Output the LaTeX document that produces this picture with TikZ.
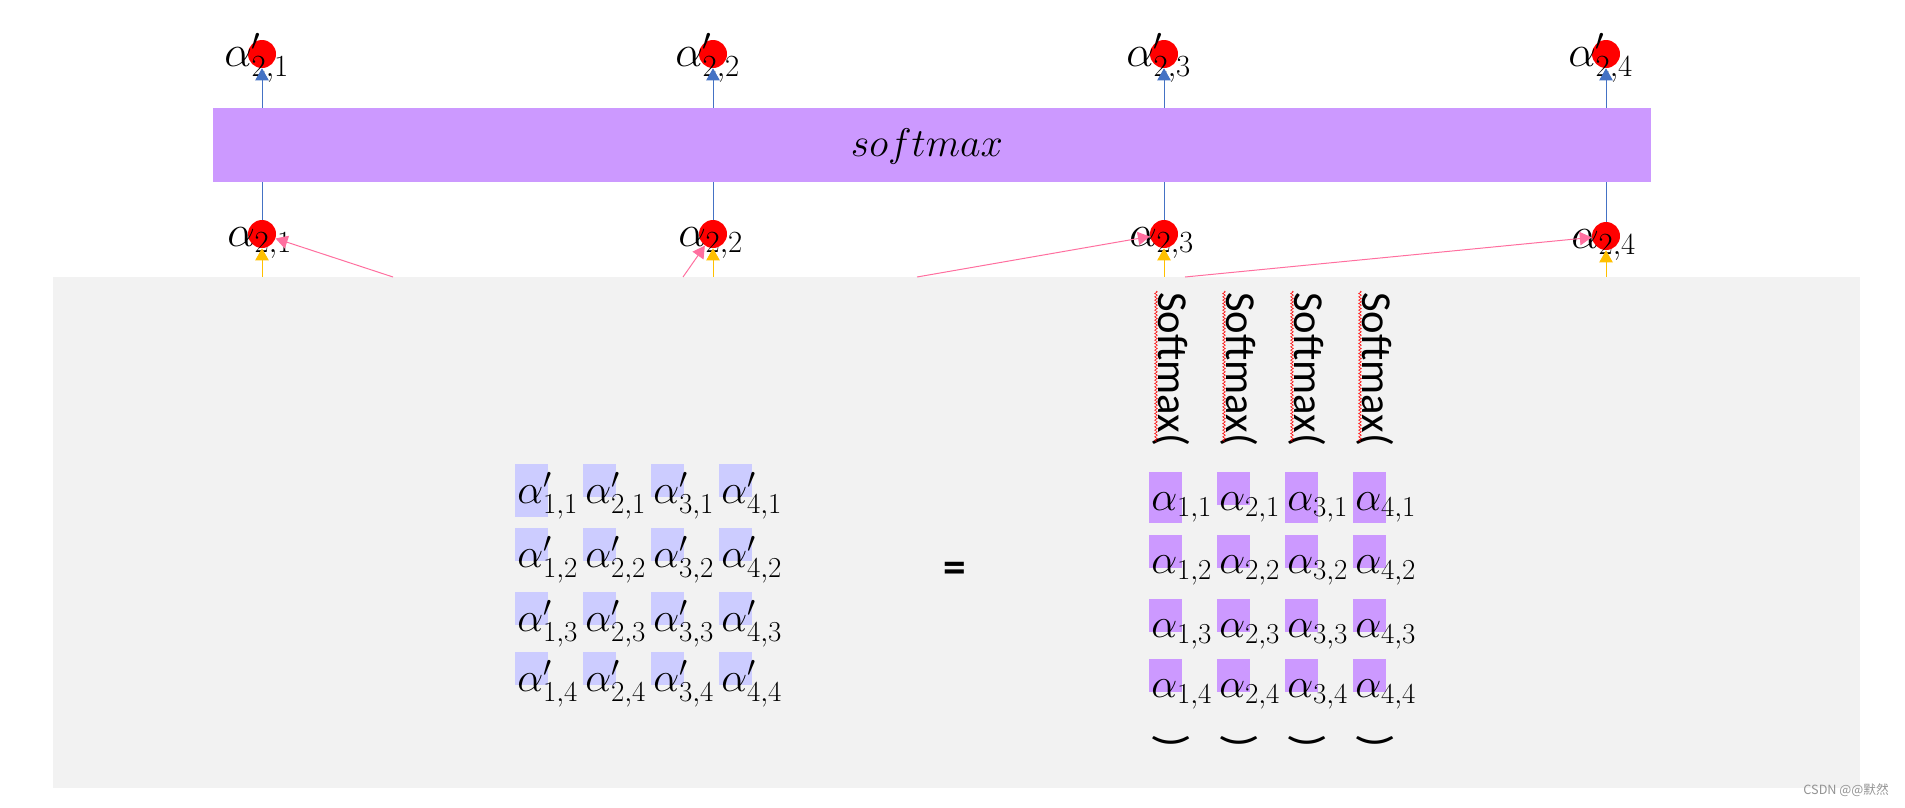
\RequirePackage{fix-cm}
\documentclass[tikz,border=0pt]{standalone}
\usepackage{fontspec}
\newfontfamily\cali{Carlito}
\newfontfamily\cjk{Noto Sans CJK SC}
\usetikzlibrary{positioning,calc,arrows.meta,decorations.pathmorphing}
\definecolor{barpurple}{HTML}{CC99FF}
\definecolor{cellblue}{HTML}{CCCCFF}
\definecolor{panelgray}{HTML}{F2F2F2}
\definecolor{linkblue}{HTML}{4472C4}
\definecolor{linkyellow}{HTML}{FFC000}
\definecolor{linkpink}{HTML}{FF6F9F}

\begin{document}
\begin{tikzpicture}[x=0.75pt,y=-0.75pt,
  dot/.style={circle,fill=red,inner sep=0pt,minimum size=21pt},
  alab/.style={anchor=base west,inner sep=0pt,font=\fontsize{33}{40}\selectfont},
  cell/.style={anchor=base west,inner sep=0pt,font=\fontsize{31}{38}\selectfont},
  smcall/.style={rotate=-90,anchor=base west,inner sep=0pt,font=\cali\fontsize{32}{38}\selectfont},
  panel/.style={fill=panelgray,inner sep=0pt,minimum width=1355.25pt,minimum height=383.25pt},
  bar/.style={fill=barpurple,inner sep=0pt,minimum width=1078.5pt,minimum height=55.5pt},
  tip/.style={-{Triangle[width=10pt,length=9pt]},line width=0.75pt},
  up/.style={tip,draw=linkblue},
  feed/.style={tip,draw=linkyellow},
  mix/.style={tip,draw=linkpink},
  squig/.style={draw=red,line width=0.4pt,decorate,decoration={zigzag,amplitude=1pt,segment length=2.5pt}}]
  \useasboundingbox (0,0) rectangle (1905,807);
  \node[panel] (panel) at (956.5,532.5) {};
  \node[bar] (sm) at (932,145) {};
  \node[font=\fontsize{30}{36}\selectfont] (smtxt) at (927,146) {$softmax$};

  \foreach \i/\x/\y in {1/262/234,2/713/234,3/1164/234,4/1606/236} {
    \node[dot] (t\i) at (\x,54) {};
    \node[dot] (b\i) at (\x,\y) {};
    \node[alab] (tl\i) at ($(t\i)+(-38,12)$) {$\alpha'_{2,\i}$};
    \node[alab] (bl\i) at ($(b\i)+(-35,12)$) {$\alpha_{2,\i}$};
  }

  \coordinate (p1) at (393,277);
  \coordinate (p2) at (683,277);
  \coordinate (p3) at (917,277);
  \coordinate (p4) at (1185,277);
  \foreach \i in {1,...,4} {
    \draw[linkblue,line width=0.75pt] (b\i) -- (b\i |- sm.south);
    \draw[up] (t\i |- sm.north) -- (t\i);
    \draw[feed] (panel.north -| b\i) -- (b\i);
    \draw[mix] (p\i) -- (b\i);
  }

  \fill[cellblue] (515,464) rectangle ++(33,53);
  \foreach \c/\x in {1/515,2/583,3/651,4/719}
    \foreach \r/\y in {1/464,2/528,3/592,4/652} {
      \fill[cellblue] (\x,\y) rectangle ++(33,33);
      \node[cell] (l\c\r) at (\x+2,\y+39) {$\alpha'_{\c,\r}$};
    }

  \node[font=\cali\bfseries\fontsize{34}{40}\selectfont] (eq) at (955,572) {=};

  \foreach \x in {1149,1285,1353}
    \fill[barpurple] (\x,472) rectangle ++(33,51);
  \foreach \c/\x in {1/1149,2/1217,3/1285,4/1353} {
    \node[smcall] (sc\c) at (\x+9,292) {Softmax(};
    \draw[squig] (\x+7,291) -- (\x+7,442);
    \node[smcall] (sx\c) at (\x+9,734) {)};
    \foreach \r/\y in {1/472,2/535,3/599,4/659} {
      \fill[barpurple] (\x,\y) rectangle ++(33,33);
      \node[cell] (r\c\r) at (\x+2,\y+38) {$\alpha_{\c,\r}$};
    }
  }

  \node[anchor=base east,inner sep=0pt,font=\cjk\fontsize{9.5}{11}\selectfont,text=gray!85] (mark) at (1889,794) {CSDN @@默然};
\end{tikzpicture}
\end{document}
